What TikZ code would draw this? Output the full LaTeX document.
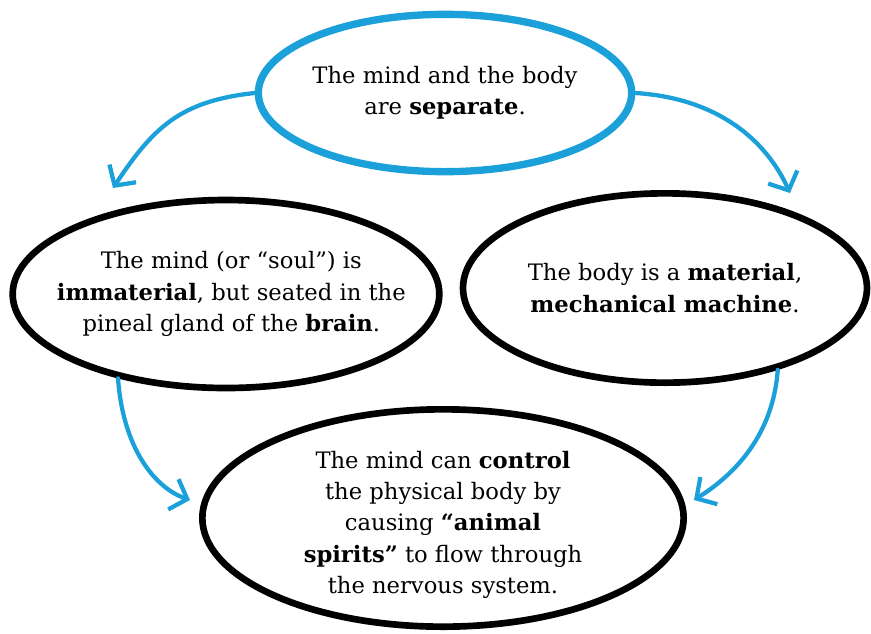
\documentclass[tikz,border=0pt]{standalone}
\usepackage{fontspec}
\setmainfont{DejaVu Serif}
\usetikzlibrary{shapes.geometric,arrows.meta}
\definecolor{penblue}{RGB}{27,160,218}
\tikzset{
  thought/.style={ellipse, draw=black, line width=5pt, inner sep=0pt},
  words/.style={align=center, font=\fontsize{17}{23.5}\selectfont},
  link/.style={draw=penblue, line width=3.2pt, line cap=round,
    -{Straight Barb[length=11pt,width=24pt]}}
}
\begin{document}
\begin{tikzpicture}[x=0.75pt,y=-0.75pt]
          \useasboundingbox (0,0) rectangle (871,633);
          % the claim on top
          \node[thought, draw=penblue, line width=5.5pt, minimum width=280pt, minimum height=118pt,
            label={[words]center:{The mind and the body\\are \textbf{separate}.}}]
            (separate) at (445,93) {};
          % mind and body
          \node[thought, minimum width=320pt, minimum height=141pt,
            label={[words, xshift=4pt]center:{The mind (or “soul”) is\\\textbf{immaterial}, but seated in the\\pineal gland of the \textbf{brain}.}}]
            (mind) at (226,294) {};
          \node[thought, minimum width=303pt, minimum height=142pt,
            label={[words]center:{The body is a \textbf{material},\\\textbf{mechanical machine}.}}]
            (body) at (665,288) {};
          % how they meet
          \node[thought, minimum width=361pt, minimum height=163pt,
            label={[words, yshift=-5pt]center:{The mind can \textbf{control}\\the physical body by\\causing \textbf{“animal}\\\textbf{spirits”} to flow through\\the nervous system.}}]
            (control) at (443,518) {};
          % arrow ends
          \coordinate (mindtip) at (113,188);
          \coordinate (bodytip) at (790,193);
          \coordinate (leftin) at (190,500);
          \coordinate (rightin) at (694,500);
          % arrows
          \draw[link] (separate.west) .. controls +(-75,8) and +(40,-60) .. (mindtip);
          \draw[link] (separate.east) .. controls +(80,5) and +(-25,-55) .. (bodytip);
          \draw[link] (mind.218) .. controls +(5,70) and +(-35,-12) .. (leftin);
          \draw[link] (body.-36) .. controls +(-5,70) and +(35,-22) .. (rightin);
        \end{tikzpicture}
\end{document}
